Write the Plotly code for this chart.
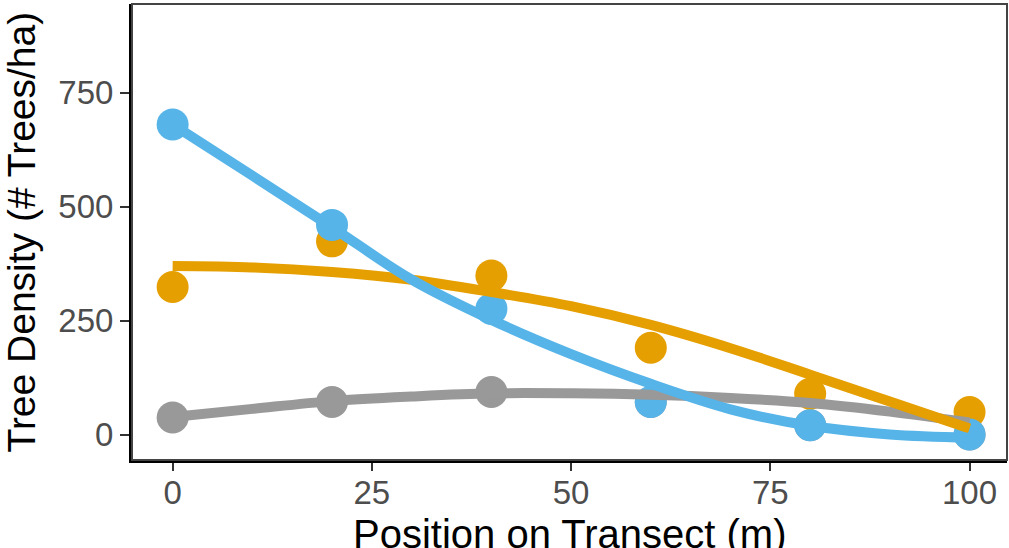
import plotly.graph_objects as go

# ---- data ----
positions = [0, 20, 40, 60, 80, 100]
blue_pts = [680, 460, 276, 72, 21, 1]
orange_pts = [324, 424, 349, 191, 90, 50]
gray_pts = [38, 72, 94, 72, 21, 1]

curve_x = [0, 10, 20, 30, 40, 50, 60, 70, 80, 90, 100]
blue_curve = [680, 568, 455, 340, 252, 177, 112, 56, 20, 1, -6]
orange_curve = [370, 367, 357, 340, 313, 282, 241, 190, 132, 73, 14]
gray_curve = [39, 57, 74, 84, 91, 91, 88, 81, 70, 51, 27]

x_ticks = [0, 25, 50, 75, 100]
y_ticks = [0, 250, 500, 750]

BLUE = "#56B4E9"
ORANGE = "#E69F00"
GRAY = "#999999"

fig = go.Figure()
for ys, col in [(gray_pts, GRAY), (orange_pts, ORANGE), (blue_pts, BLUE)]:
    fig.add_trace(go.Scatter(x=positions, y=ys, mode="markers",
                             marker=dict(color=col, size=32, line=dict(width=0)),
                             showlegend=False, hoverinfo="skip"))
for ys, col in [(gray_curve, GRAY), (orange_curve, ORANGE), (blue_curve, BLUE)]:
    fig.add_trace(go.Scatter(x=curve_x, y=ys, mode="lines",
                             line=dict(color=col, width=10, shape="spline", smoothing=1.0),
                             showlegend=False, hoverinfo="skip"))

tick_font = dict(family="Liberation Sans, Arial, sans-serif", size=33, color="#4D4D4D")
xtitle_font = dict(family="Liberation Sans, Arial, sans-serif", size=40, color="black")
ytitle_font = dict(family="Liberation Sans, Arial, sans-serif", size=39, color="black")

fig.update_layout(
    width=1009, height=548,
    margin=dict(l=132, r=2, t=4, b=88),
    paper_bgcolor="white", plot_bgcolor="white",
    xaxis=dict(range=[-5.1, 104.7], tickvals=x_ticks, ticktext=[str(v) for v in x_ticks],
               showgrid=False, zeroline=False, showline=True, linecolor="black", linewidth=3,
               ticks="outside", ticklen=8, tickwidth=2, tickcolor="#333333",
               tickfont=tick_font, ticklabelstandoff=-7),
    yaxis=dict(range=[-55, 944], tickvals=y_ticks, ticktext=[str(v) for v in y_ticks],
               showgrid=False, zeroline=False, showline=True, linecolor="black", linewidth=3,
               ticks="outside", ticklen=9, tickwidth=2, tickcolor="#333333",
               tickfont=tick_font, ticklabelstandoff=0),
    shapes=[dict(type="rect", xref="paper", yref="paper", x0=0, y0=0, x1=1, y1=1,
                 line=dict(color="#444444", width=2), layer="above")],
    annotations=[
        dict(text="Position on Transect (m)", xref="paper", yref="paper",
             x=0.5, y=-0.1086, xanchor="center", yanchor="top", showarrow=False,
             font=xtitle_font),
        dict(text="Tree Density (# Trees/ha)", xref="paper", yref="paper",
             x=-132/875, y=0.5, xanchor="left", yanchor="middle", showarrow=False,
             textangle=-90, font=ytitle_font, xshift=-3),
    ],
)

fig.write_html("out.html")
